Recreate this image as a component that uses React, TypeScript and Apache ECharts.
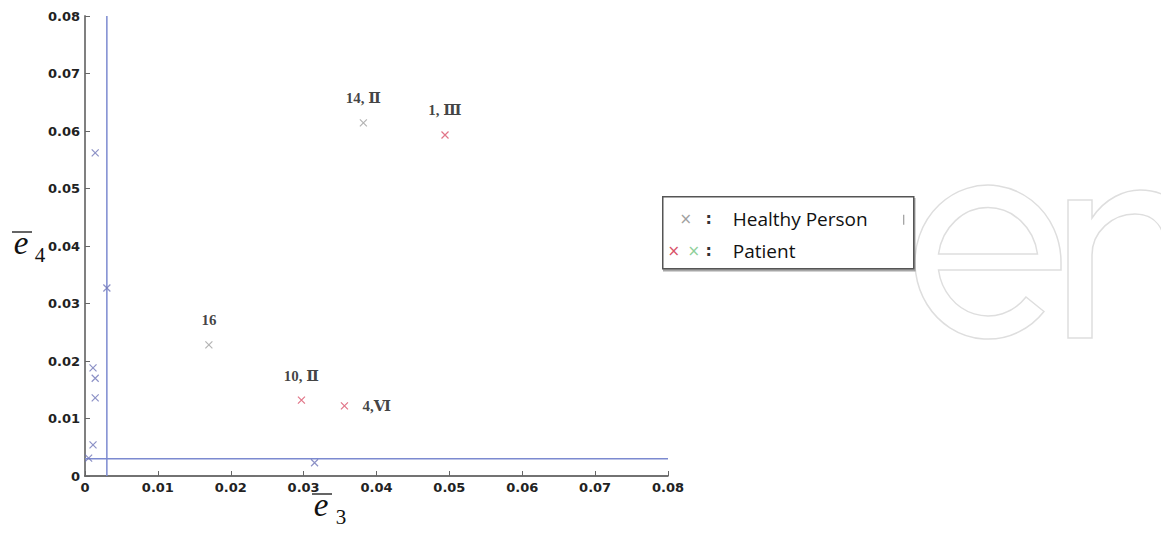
import React, { useEffect, useRef } from "react";
import * as echarts from "echarts";

// ---- data ----
const xTicks = ["0", "0.01", "0.02", "0.03", "0.04", "0.05", "0.06", "0.07", "0.08"];
const yTicks = ["0", "0.01", "0.02", "0.03", "0.04", "0.05", "0.06", "0.07", "0.08"];

const healthyX = [0.0014, 0.003, 0.0011, 0.0014, 0.0014, 0.0011, 0.0005, 0.0382, 0.017, 0.0315];
const healthyY = [0.0562, 0.0327, 0.0188, 0.017, 0.0136, 0.0054, 0.0031, 0.0614, 0.0228, 0.0023];
const healthyLabels = ["", "", "", "", "", "", "", "14, Ⅱ", "16", ""];

const patientX = [0.0494, 0.0297, 0.0356];
const patientY = [0.0593, 0.0132, 0.0122];
const patientLabels = ["1, Ⅲ", "10, Ⅱ", "4,Ⅵ"];

const thresholdX = 0.003;
const thresholdY = 0.003;
const axisMax = 0.08;

const legendNames = ["Healthy Person", "Patient"];

const CROSS = "path://M0 0L10 10M10 0L0 10";

const E_PATH =
  "M1061 262 A73 77 0 1 0 1044 311.5 L1026 297 A50 54 0 0 1 938.5 270 L1061 270 Z " +
  "M938.5 254 A50 54 0 0 1 1037.5 254 Z";
const N_PATH =
  "M1068 338 L1068 200 L1092 200 L1092 218 C1105 198 1125 190 1140 190 C1175 190 1190 215 1190 250 " +
  "L1190 338 L1166 338 L1166 255 C1166 228 1155 214 1135 214 C1112 214 1092 232 1092 255 L1092 338 Z";

echarts.graphic.registerShape("wmE", echarts.graphic.extendPath(E_PATH, {}));
echarts.graphic.registerShape("wmN", echarts.graphic.extendPath(N_PATH, {}));

export default function App() {
  const ref = useRef<HTMLDivElement>(null);

  useEffect(() => {
    if (!ref.current) return;
    const chart = echarts.init(ref.current, undefined, { renderer: "svg" });

    const healthyData = healthyX.map((x, i) => ({
      value: [x, healthyY[i]],
      name: healthyLabels[i],
      itemStyle: {
        color: "transparent",
        borderColor: x < 0.005 || healthyY[i] < 0.005 ? "#6f75b8" : "#a0a0a0",
        borderWidth: 1.2,
      },
    }));
    const patientData = patientX.map((x, i) => ({
      value: [x, patientY[i]],
      name: patientLabels[i],
      label: patientLabels[i].startsWith("4")
        ? { position: "right" as const, distance: 14 }
        : { position: "top" as const },
    }));

    const pointLabel = {
      show: true,
      formatter: (p: any) => p.name,
      position: "top" as const,
      distance: 13,
      color: "#111",
      fontFamily: '"Liberation Serif", "DejaVu Serif", serif',
      fontWeight: "bold" as const,
      fontSize: 15,
    };

    const tickLabelStyle = {
      color: "#222",
      fontSize: 13,
      fontWeight: "bold" as const,
      fontFamily: '"DejaVu Sans", Arial, sans-serif',
    };

    const serifItalic = 'italic 33px "Liberation Serif", "DejaVu Serif", serif';
    const serifSub = '21px "Liberation Serif", "DejaVu Serif", serif';

    const thresholdLine = {
      type: "line",
      silent: true,
      symbol: "none",
      lineStyle: { color: "#7c8ad0", width: 1.5 },
      z: 2,
    };

    chart.setOption({
      animation: false,
      backgroundColor: "#fff",
      grid: { left: 85, right: 493, top: 16, bottom: 61, containLabel: false },
      xAxis: {
        type: "value",
        min: 0,
        max: axisMax,
        interval: 0.01,
        axisLine: { show: true, lineStyle: { color: "#444", width: 1.5 } },
        axisTick: { show: true, inside: true, length: 5, lineStyle: { color: "#666" } },
        splitLine: { show: false },
        axisLabel: {
          ...tickLabelStyle,
          margin: 5,
          formatter: (v: number) => xTicks[Math.round(v * 100)] ?? "",
        },
      },
      yAxis: {
        type: "value",
        min: 0,
        max: axisMax,
        interval: 0.01,
        axisLine: { show: true, lineStyle: { color: "#808080", width: 2 } },
        axisTick: { show: true, inside: true, length: 5, lineStyle: { color: "#666" } },
        splitLine: { show: false },
        axisLabel: {
          ...tickLabelStyle,
          margin: 5,
          formatter: (v: number) => yTicks[Math.round(v * 100)] ?? "",
        },
      },
      series: [
        {
          ...thresholdLine,
          name: "threshold-x",
          data: [
            [thresholdX, 0],
            [thresholdX, axisMax],
          ],
        },
        {
          ...thresholdLine,
          name: "threshold-y",
          data: [
            [0, thresholdY],
            [axisMax, thresholdY],
          ],
        },
        {
          name: legendNames[0],
          type: "scatter",
          symbol: CROSS,
          symbolSize: 7,
          data: healthyData,
          label: pointLabel,
          z: 3,
        },
        {
          name: legendNames[1],
          type: "scatter",
          symbol: CROSS,
          symbolSize: 7,
          data: patientData,
          itemStyle: { color: "transparent", borderColor: "#d9536a", borderWidth: 1.2 },
          label: pointLabel,
          z: 3,
        },
      ],
      graphic: [
        // watermark "en"
        { type: "wmE", x: 0, y: 0, silent: true, z: 0, style: { fill: "none", stroke: "#dedede", lineWidth: 1.5 } },
        { type: "wmN", x: 0, y: 0, silent: true, z: 0, style: { fill: "none", stroke: "#dedede", lineWidth: 1.5 } },
        // axis titles
        { type: "text", x: 21, y: 243, style: { text: "e", font: serifItalic, fill: "#111", align: "center", verticalAlign: "middle" } },
        { type: "text", x: 40, y: 255, style: { text: "4", font: serifSub, fill: "#111", align: "center", verticalAlign: "middle" } },
        { type: "line", shape: { x1: 12, y1: 232, x2: 32, y2: 232 }, style: { stroke: "#111", lineWidth: 1.3 } },
        { type: "text", x: 321, y: 505, style: { text: "e", font: serifItalic, fill: "#111", align: "center", verticalAlign: "middle" } },
        { type: "text", x: 341, y: 517, style: { text: "3", font: serifSub, fill: "#111", align: "center", verticalAlign: "middle" } },
        { type: "line", shape: { x1: 312, y1: 494, x2: 332, y2: 494 }, style: { stroke: "#111", lineWidth: 1.3 } },
        // legend box
        {
          type: "group",
          left: 662,
          top: 196,
          children: [
            { type: "rect", shape: { x: 0, y: 0, width: 251, height: 72 }, style: { fill: "#fff", stroke: "#555", lineWidth: 1.5, shadowColor: "rgba(0,0,0,0.35)", shadowOffsetX: 1, shadowOffsetY: 2, shadowBlur: 1 } },
            { type: "text", x: 23, y: 22, style: { text: "×", font: '15px "DejaVu Sans", sans-serif', fill: "#a0a0a0", align: "center", verticalAlign: "middle" } },
            { type: "text", x: 46, y: 22, style: { text: ":", font: 'bold 16px "DejaVu Sans", sans-serif', fill: "#333", align: "center", verticalAlign: "middle" } },
            { type: "text", x: 70, y: 22, style: { text: legendNames[0], font: '19px "Open Sans", "Noto Sans", sans-serif', fill: "#111", verticalAlign: "middle" } },
            { type: "text", x: 11, y: 54, style: { text: "×", font: '15px "DejaVu Sans", sans-serif', fill: "#d9536a", align: "center", verticalAlign: "middle" } },
            { type: "text", x: 31, y: 54, style: { text: "×", font: '15px "DejaVu Sans", sans-serif', fill: "#8fcf9a", align: "center", verticalAlign: "middle" } },
            { type: "text", x: 46, y: 54, style: { text: ":", font: 'bold 16px "DejaVu Sans", sans-serif', fill: "#333", align: "center", verticalAlign: "middle" } },
            { type: "text", x: 70, y: 54, style: { text: legendNames[1], font: '19px "Open Sans", "Noto Sans", sans-serif', fill: "#111", verticalAlign: "middle" } },
            { type: "line", shape: { x1: 241, y1: 18, x2: 241, y2: 28 }, style: { stroke: "#888", lineWidth: 1 } },
          ],
        },
      ],
    });

    return () => chart.dispose();
  }, []);

  return (
    <div
      ref={ref}
      style={{ position: "absolute", left: 0, top: 0, width: 1161, height: 537, background: "#fff" }}
    />
  );
}
